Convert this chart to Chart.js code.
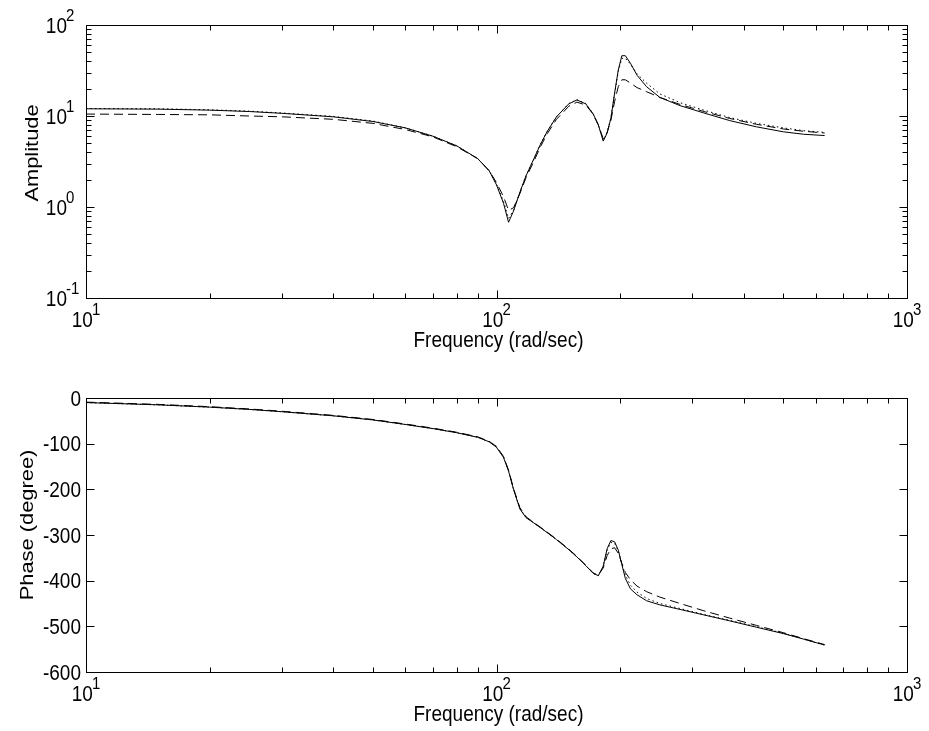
<!DOCTYPE html>
<html>
<head>
<meta charset="utf-8">
<title>Frequency response</title>
<script src="https://cdn.jsdelivr.net/npm/chart.js@4.4.1/dist/chart.umd.min.js"></script>
<style>
    html, body { margin: 0; padding: 0; background: #fff; }
    #wrap { position: relative; width: 929px; height: 731px; overflow: hidden; }
    canvas { position: absolute; left: 0; display: block; }
    #ampChart { top: 0; }
    #phaseChart { top: 365px; }
</style>
</head>
<body>
<div id="wrap">
    <canvas id="ampChart" width="929" height="365"></canvas>
    <canvas id="phaseChart" width="929" height="366"></canvas>
</div>
<script>
// frequency points (rad/sec)
const frequency = [10, 15, 20, 25, 30, 40, 50, 60, 70, 80, 90, 96, 100, 104, 107,
    110, 114, 118, 123, 128, 133, 140, 150, 157, 165, 172, 177, 182, 186, 190,
    194, 198, 202, 206, 212, 220, 232, 250, 280, 320, 370, 430, 500, 560, 630];

// amplitude, three curves
const ampSolid = [12.0, 11.9, 11.6, 11.2, 10.7, 9.8, 8.7, 7.4, 6.0, 4.7, 3.4, 2.5, 1.75, 1.1, 0.68,
    0.9, 1.45, 2.2, 3.3, 4.9, 6.8, 9.8, 13.6, 15.0, 13.6, 10.5, 8.0, 5.3, 6.5, 9.5,
    18, 32, 46, 46, 38, 28, 21, 16, 13.0, 10.8, 8.9, 7.6, 6.7, 6.3, 6.1];
const ampDashed = [10.5, 10.4, 10.3, 10.0, 9.8, 9.2, 8.3, 7.1, 5.9, 4.6, 3.4, 2.5, 1.85, 1.3, 0.92,
    0.98, 1.4, 2.1, 3.1, 4.6, 6.4, 9.2, 12.8, 14.2, 13.2, 10.5, 8.0, 5.6, 6.6, 9.0,
    14.5, 21, 25, 25, 23, 20.5, 18.5, 16, 13.4, 11.2, 9.4, 8.1, 7.2, 6.8, 6.5];
const ampDotted = [12.1, 12.0, 11.7, 11.3, 10.8, 9.9, 8.8, 7.4, 6.0, 4.7, 3.4, 2.5, 1.78, 1.15, 0.75,
    0.92, 1.45, 2.2, 3.3, 4.9, 6.8, 9.8, 13.7, 15.1, 13.7, 10.6, 8.0, 5.4, 6.6, 9.6,
    17.5, 31, 43, 43, 37, 29, 23, 17.5, 14, 11.6, 9.6, 8.3, 7.4, 6.9, 6.6];

// phase (degree), three curves
const phaseSolid = [-10, -15, -20, -25, -30, -39, -48, -58, -67, -76, -86, -96, -108, -130, -160,
    -200, -243, -262, -273, -284, -295, -310, -332, -348, -367, -384, -389, -368, -330, -312,
    -315, -333, -365, -395, -418, -431, -444, -453, -463, -475, -488, -502, -516, -528, -541];
const phaseDashed = [-9, -14, -19, -24, -29, -38, -47, -57, -66, -75, -85, -95, -106, -128, -158,
    -198, -240, -260, -272, -283, -294, -309, -331, -347, -366, -383, -388, -372, -345, -330,
    -328, -340, -362, -382, -398, -412, -424, -436, -450, -466, -482, -498, -514, -527, -540];
const phaseDotted = [-10, -15, -20, -25, -30, -39, -48, -58, -67, -76, -86, -96, -107, -129, -159,
    -199, -242, -261, -273, -284, -295, -310, -332, -348, -367, -384, -389, -369, -333, -316,
    -318, -335, -362, -388, -410, -425, -439, -450, -461, -474, -487, -501, -515, -528, -541];

// axes
const xTickExps = [1, 2, 3];
const ampTickExps = [-1, 0, 1, 2];
const phaseTicks = [0, -100, -200, -300, -400, -500, -600];
const xTitle = "Frequency (rad/sec)";
const ampTitle = "Amplitude";
const phaseTitle = "Phase (degree)";

const FONT = '"Liberation Sans", Arial, Helvetica, sans-serif';
const FS = 19;   // label size
const FE = 15;   // exponent size
const SY = 1.15; // the figure is a bit stretched vertically
const CAP = 0.716 * FS / 2;

function pairs(xs, ys) {
    return xs.map((x, i) => ({ x: x, y: ys[i] }));
}

function lineSet(label, values, dash) {
    return {
        label: label,
        data: pairs(frequency, values),
        borderColor: "#000",
        borderWidth: 1,
        borderDash: dash,
        pointRadius: 0,
        tension: 0,
        fill: false,
    };
}

// "10" with a raised exponent, centred vertically on y
function drawPower(ctx, exp, x, y, align) {
    ctx.save();
    ctx.translate(x, y);
    ctx.scale(1, SY);
    ctx.fillStyle = "#000";
    ctx.textBaseline = "alphabetic";
    ctx.textAlign = "left";
    ctx.font = FS + "px " + FONT;
    const wBase = ctx.measureText("10").width;
    ctx.font = FE + "px " + FONT;
    const wExp = ctx.measureText(String(exp)).width;
    let x0;
    if (align === "center") x0 = -(wBase + wExp - 1) / 2;
    else x0 = -wBase; // base right edge at x
    ctx.font = FS + "px " + FONT;
    ctx.fillText("10", x0, CAP);
    ctx.font = FE + "px " + FONT;
    ctx.fillText(String(exp), x0 + wBase - 1, -CAP + 3);
    ctx.restore();
}

function drawText(ctx, txt, x, y, align, rotate) {
    ctx.save();
    ctx.translate(x, y);
    ctx.scale(1, SY);
    if (rotate) ctx.rotate(-Math.PI / 2);
    ctx.fillStyle = "#000";
    ctx.font = FS + "px " + FONT;
    ctx.textAlign = align;
    ctx.textBaseline = "alphabetic";
    ctx.fillText(txt, 0, rotate ? 0 : CAP);
    ctx.restore();
}

function logValues(lo, hi) {
    const out = [];
    for (let d = lo; d < hi; d++) {
        for (let m = 1; m <= 9; m++) out.push({ v: m * Math.pow(10, d), major: m === 1 });
    }
    out.push({ v: Math.pow(10, hi), major: true });
    return out;
}

const boxAxes = {
    id: "boxAxes",
    afterDraw(chart, args, opts) {
        const ctx = chart.ctx;
        const a = chart.chartArea;
        const xs = chart.scales.x;
        const ys = chart.scales.y;
        const L = Math.round(a.left) + 0.5, R = Math.round(a.right) + 0.5;
        const T = Math.round(a.top) + 0.5, B = Math.round(a.bottom) + 0.5;

        ctx.save();
        ctx.strokeStyle = "#000";
        ctx.lineWidth = 1;
        ctx.strokeRect(L, T, R - L, B - T);

        ctx.beginPath();
        // x ticks, inward on bottom and top
        logValues(xTickExps[0], xTickExps[xTickExps.length - 1]).forEach((t) => {
            const px = Math.round(xs.getPixelForValue(t.v)) + 0.5;
            const len = t.major ? 8 : 5;
            ctx.moveTo(px, B); ctx.lineTo(px, B - len);
            ctx.moveTo(px, T); ctx.lineTo(px, T + len);
        });
        // y ticks, inward on left and right
        let yt;
        if (opts.kind === "log") {
            yt = logValues(ampTickExps[0], ampTickExps[ampTickExps.length - 1]);
        } else {
            yt = phaseTicks.map((v) => ({ v: v, major: true }));
        }
        yt.forEach((t) => {
            const py = Math.round(ys.getPixelForValue(t.v)) + 0.5;
            const len = t.major ? 8 : 5;
            ctx.moveTo(L, py); ctx.lineTo(L + len, py);
            ctx.moveTo(R, py); ctx.lineTo(R - len, py);
        });
        ctx.stroke();
        ctx.restore();

        // x tick labels and title
        xTickExps.forEach((e) => {
            drawPower(ctx, e, xs.getPixelForValue(Math.pow(10, e)), a.bottom + 21.5, "center");
        });
        drawText(ctx, xTitle, (a.left + a.right) / 2 + 2, a.bottom + 41, "center", false);

        // y tick labels and title
        if (opts.kind === "log") {
            ampTickExps.forEach((e) => {
                drawPower(ctx, e, a.left - 19, ys.getPixelForValue(Math.pow(10, e)), "right");
            });
        } else {
            phaseTicks.forEach((v) => {
                drawText(ctx, String(v), a.left - 5, ys.getPixelForValue(v), "right", false);
            });
        }
        drawText(ctx, opts.title, opts.titleX, opts.titleY, "center", true);
    },
};

function makeChart(id, sets, yOpts, pad, axesOpts) {
    return new Chart(document.getElementById(id), {
        type: "line",
        data: { datasets: sets },
        options: {
            responsive: false,
            animation: false,
            layout: { padding: pad },
            plugins: {
                legend: { display: false },
                tooltip: { enabled: false },
                boxAxes: axesOpts,
            },
            scales: {
                x: { type: "logarithmic", min: 10, max: 1000, display: false },
                y: Object.assign({ display: false }, yOpts),
            },
        },
        plugins: [boxAxes],
    });
}

makeChart(
    "ampChart",
    [
        lineSet("dashed", ampDashed, [9, 5]),
        lineSet("dotted", ampDotted, [1.5, 3]),
        lineSet("solid", ampSolid, []),
    ],
    { type: "logarithmic", min: 0.1, max: 100 },
    { left: 86, right: 22, top: 25, bottom: 67 },
    { kind: "log", title: ampTitle, titleX: 38, titleY: 153 }
);

makeChart(
    "phaseChart",
    [
        lineSet("dashed", phaseDashed, [9, 5]),
        lineSet("dotted", phaseDotted, [1.5, 3]),
        lineSet("solid", phaseSolid, []),
    ],
    { type: "linear", min: -600, max: 0 },
    { left: 86, right: 22, top: 33, bottom: 59 },
    { kind: "linear", title: phaseTitle, titleX: 33, titleY: 525 - 365 }
);
</script>
</body>
</html>
